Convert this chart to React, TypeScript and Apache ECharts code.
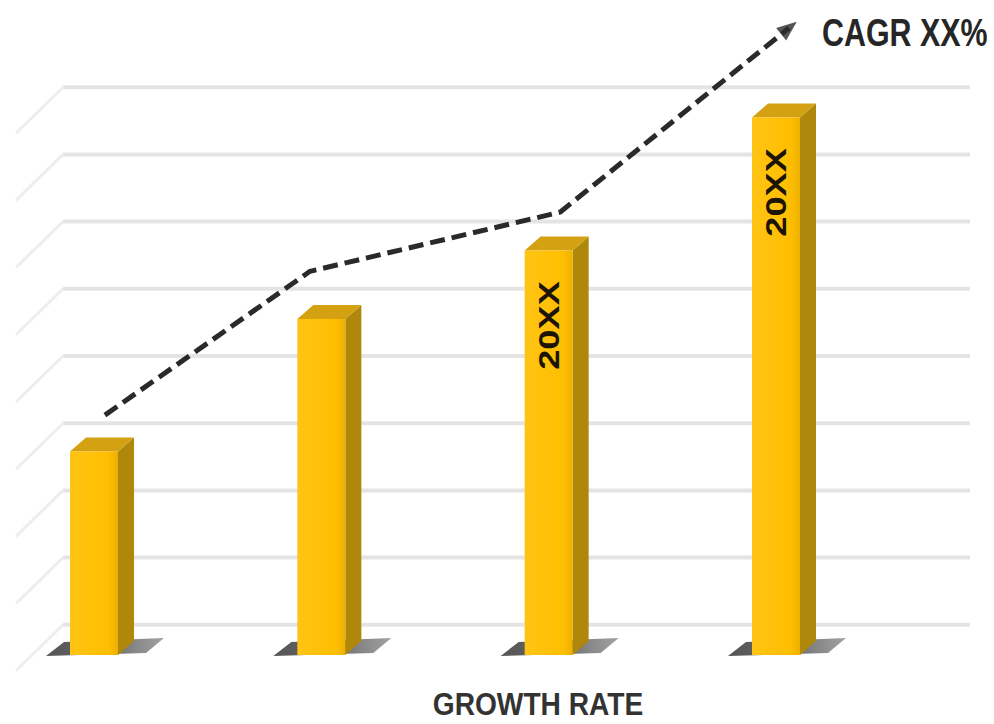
import React, { useEffect, useRef } from "react";
import * as echarts from "echarts";

// ---- data ----
const categories = ["Year 1", "Year 2", "Year 3", "Year 4"];
const barX = [1, 2, 3, 4];
const barValues = [3.58, 5.55, 6.57, 8.55];
const barBase = 0.55;
const barLabels = ["", "", "20XX", "20XX"];
const gridLevels = [1, 2, 3, 4, 5, 6, 7, 8, 9];
const cagrLineX = [1.048, 1.95, 3.05, 4.057];
const cagrLineY = [4.12, 6.26, 7.14, 9.88];
const cagrLabel = "CAGR XX%";
const axisTitle = "GROWTH RATE";

const FONT = '"Liberation Sans", Arial, sans-serif';

export default function App() {
  const ref = useRef<HTMLDivElement>(null);

  useEffect(() => {
    if (!ref.current) return;
    const chart = echarts.init(ref.current, null, { renderer: "svg" });

    const gridItem = (params: any, api: any) => {
      const y = api.coord([1, api.value(1)])[1];
      return {
        type: "group",
        children: [
          {
            type: "line",
            shape: { x1: 63, y1: y, x2: 970, y2: y },
            style: { stroke: "#e4e4e4", lineWidth: 4 },
          },
          {
            type: "line",
            shape: { x1: 63, y1: y, x2: 16, y2: y + 46 },
            style: { stroke: "#eeeeee", lineWidth: 3 },
          },
        ],
      };
    };

    const barItem = (params: any, api: any) => {
      const idx = params.dataIndex;
      const top = api.coord([api.value(0), api.value(1)]);
      const bot = api.coord([api.value(0), barBase]);
      const c = top[0];
      const t = top[1];
      const b = bot[1];
      const hw = 24;
      const dx = 16;
      const dy = 14;
      const children: any[] = [
        {
          type: "polygon",
          shape: {
            points: [
              [c - 48, b + 1],
              [c - 30, b - 13],
              [c + 70, b - 17],
              [c + 52, b - 2],
            ],
          },
          style: {
            fill: new echarts.graphic.LinearGradient(0, 0, 1, 0, [
              { offset: 0, color: "rgba(55,55,55,0.85)" },
              { offset: 0.5, color: "rgba(65,65,65,0.8)" },
              { offset: 1, color: "rgba(100,100,100,0.6)" },
            ]),
          },
        },
        {
          type: "polygon",
          shape: {
            points: [
              [c + hw, t],
              [c + hw + dx, t - dy],
              [c + hw + dx, b - dy],
              [c + hw, b],
            ],
          },
          style: { fill: "#AE870B" },
        },
        {
          type: "polygon",
          shape: {
            points: [
              [c - hw, t],
              [c - hw + dx, t - dy],
              [c + hw + dx, t - dy],
              [c + hw, t],
            ],
          },
          style: { fill: "#D3A112" },
        },
        {
          type: "rect",
          shape: { x: c - hw, y: t, width: hw * 2, height: b - t },
          style: {
            fill: new echarts.graphic.LinearGradient(0, 0, 1, 0, [
              { offset: 0, color: "#FFC414" },
              { offset: 0.8, color: "#FFBE00" },
              { offset: 1, color: "#EDB000" },
            ]),
          },
        },
      ];
      const lab = barLabels[idx];
      if (lab) {
        children.push({
          type: "text",
          x: c,
          y: t + 75,
          rotation: Math.PI / 2,
          scaleX: 1.25,
          style: {
            text: lab,
            align: "center",
            verticalAlign: "middle",
            fill: "#1c1505",
            font: `bold 29px ${FONT}`,
          },
        });
      }
      return { type: "group", children };
    };

    const lineData = cagrLineX.map((x, i) => [x, cagrLineY[i]]);
    const last = lineData[lineData.length - 1];

    chart.setOption({
      animation: false,
      backgroundColor: "#ffffff",
      graphic: [
        {
          type: "text",
          x: 822,
          y: 33,
          scaleX: 0.8,
          style: {
            text: cagrLabel,
            align: "left",
            verticalAlign: "middle",
            font: `bold 38px ${FONT}`,
            fill: "#262626",
          },
        },
        {
          type: "text",
          x: 538,
          y: 704,
          scaleX: 0.88,
          style: {
            text: axisTitle,
            align: "center",
            verticalAlign: "middle",
            font: `bold 32px ${FONT}`,
            fill: "#333333",
          },
        },
      ],
      grid: { left: 0, right: 0, top: 20, bottom: 32 },
      xAxis: {
        type: "value",
        min: 0.5865,
        max: 4.959,
        show: false,
      },
      yAxis: {
        type: "value",
        min: 0,
        max: 10,
        show: false,
        splitLine: { show: false },
      },
      series: [
        {
          type: "custom",
          name: "grid",
          renderItem: gridItem,
          data: gridLevels.map((v) => [1, v]),
          clip: false,
          silent: true,
          z: 1,
        },
        {
          type: "custom",
          name: "bars",
          renderItem: barItem,
          data: barX.map((x, i) => ({ name: categories[i], value: [x, barValues[i]] })),
          clip: false,
          z: 2,
        },
        {
          id: "cagr",
          type: "line",
          data: lineData,
          symbol: "none",
          lineStyle: { color: "#2a2a2a", width: 5, type: [15, 7], cap: "butt" },
          clip: false,
          z: 3,
        },
        {
          id: "arrow",
          type: "scatter",
          data: [last],
          symbol: "triangle",
          symbolSize: [16, 20],
          itemStyle: { color: "#2a2a2a" },
          clip: false,
          z: 4,
        },
      ],
    });

    const p1 = chart.convertToPixel({ seriesIndex: 2 }, lineData[lineData.length - 2]) as number[];
    const p2 = chart.convertToPixel({ seriesIndex: 2 }, last) as number[];
    const ang = (Math.atan2(-(p2[1] - p1[1]), p2[0] - p1[0]) * 180) / Math.PI;
    chart.setOption({ series: [{ id: "arrow", symbolRotate: ang - 90 }] });

    return () => chart.dispose();
  }, []);

  return (
    <div
      ref={ref}
      style={{ position: "fixed", left: 0, top: 0, width: 994, height: 724 }}
    />
  );
}
